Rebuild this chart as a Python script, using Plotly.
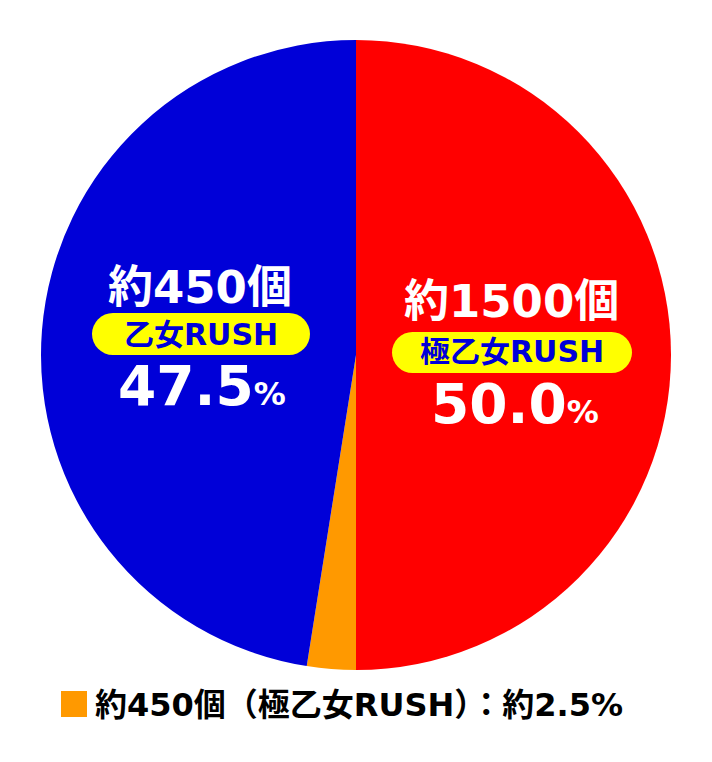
import plotly.graph_objects as go

W, H = 712, 762
OFF = 8  # page body margin

labels = ["極乙女RUSH", "約450個(極乙女RUSH)", "乙女RUSH"]
values = [50.0, 2.5, 47.5]
colors = ["#FF0000", "#FF9900", "#0000D8"]

counts = ["約1500個", "約450個"]
modes = ["極乙女RUSH", "乙女RUSH"]
pcts = ["50.0", "47.5"]
legend_text = "約450個（極乙女RUSH）：約2.5%"

FONT = "DejaVu Sans, Noto Sans CJK JP, sans-serif"
BLUE_TXT = "#0000D8"

def px(x):
    return (x - OFF) / W

def py(y):
    return 1 - (y - OFF) / H

fig = go.Figure(go.Pie(
    labels=labels, values=values, sort=False, direction="clockwise", rotation=0,
    marker=dict(colors=colors, line=dict(width=0)),
    textinfo="none", hoverinfo="label+percent", showlegend=False,
    domain=dict(x=[px(41), px(671)], y=[py(670), py(40)]),
))

shapes = []
def pill(x0, x1, y0, y1, color="#FFFF00"):
    r = (y1 - y0) / 2
    shapes.append(dict(type="rect", xref="paper", yref="paper", x0=px(x0 + r), x1=px(x1 - r),
                       y0=py(y1), y1=py(y0), fillcolor=color, line=dict(width=0), layer="above"))
    shapes.append(dict(type="circle", xref="paper", yref="paper", x0=px(x0), x1=px(x0 + 2 * r),
                       y0=py(y1), y1=py(y0), fillcolor=color, line=dict(width=0), layer="above"))
    shapes.append(dict(type="circle", xref="paper", yref="paper", x0=px(x1 - 2 * r), x1=px(x1),
                       y0=py(y1), y1=py(y0), fillcolor=color, line=dict(width=0), layer="above"))

pill(392, 632, 332, 373)
pill(92, 310, 313, 355)
# legend swatch
shapes.append(dict(type="rect", xref="paper", yref="paper", x0=px(61), x1=px(87),
                   y0=py(717), y1=py(691), fillcolor="#FF9900", line=dict(width=0), layer="above"))

ann = []
def text(x, y, t, size, color):
    ann.append(dict(x=px(x), y=py(y), xref="paper", yref="paper", text=t, showarrow=False,
                    xanchor="center", yanchor="middle",
                    font=dict(family=FONT, size=size, color=color, weight="bold")))

# right (red)
text(511, 301, counts[0], 45, "white")
text(512, 352, modes[0], 30, BLUE_TXT)
text(515, 404, pcts[0] + "<span style='font-size:32px'>%</span>", 55, "white")
# left (blue)
text(200, 287, counts[1], 45, "white")
text(201, 334, modes[1], 30, BLUE_TXT)
text(202, 386, pcts[1] + "<span style='font-size:32px'>%</span>", 55, "white")

ann.append(dict(x=px(93), y=py(705), xref="paper", yref="paper", text=legend_text, showarrow=False,
                xanchor="left", yanchor="middle",
                font=dict(family=FONT, size=32, color="black", weight="bold")))

fig.update_layout(width=W, height=H, margin=dict(l=0, r=0, t=0, b=0),
                  paper_bgcolor="white", plot_bgcolor="white",
                  shapes=shapes, annotations=ann)

fig.write_html("out.html")
